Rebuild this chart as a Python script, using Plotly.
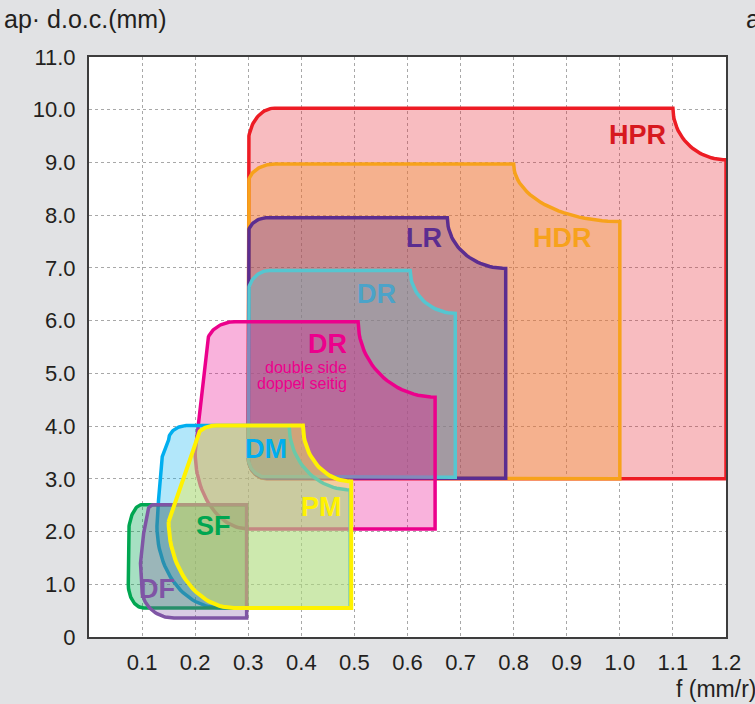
import numpy as np
import plotly.graph_objects as go

# ---- axis ticks -------------------------------------------------------
F_TICKS = [0.1, 0.2, 0.3, 0.4, 0.5, 0.6, 0.7, 0.8, 0.9, 1.0, 1.1, 1.2]
F_TICK_TEXT = ["0.1", "0.2", "0.3", "0.4", "0.5", "0.6", "0.7", "0.8",
               "0.9", "1.0", "1.1", "1.2"]
AP_TICKS = [0, 1, 2, 3, 4, 5, 6, 7, 8, 9, 10, 11]
AP_TICK_TEXT = ["0", "1.0", "2.0", "3.0", "4.0", "5.0", "6.0", "7.0",
                "8.0", "9.0", "10.0", "11.0"]

# ---- chipbreaker application windows ----------------------------------
# Outline vertices in feed f (mm/r) and depth of cut ap (mm), walked
# clockwise.  Edge kinds: L = straight, V = quarter arc leaving the start
# vertex vertically, H = quarter arc leaving it horizontally.
HPR_F = [0.300, 0.300, 0.350, 1.100, 1.200, 1.200, 0.335]
HPR_AP = [3.40, 9.35, 10.03, 10.03, 9.05, 3.00, 3.00]
HPR_SEG = "LVLVLLH"

HDR_F = [0.300, 0.300, 0.350, 0.800, 1.000, 1.000, 0.335]
HDR_AP = [3.40, 8.60, 8.97, 8.97, 7.88, 3.00, 3.00]
HDR_SEG = "LVLVLLH"

LR_F = [0.300, 0.300, 0.335, 0.675, 0.785, 0.785, 0.335]
LR_AP = [3.40, 7.65, 7.95, 7.95, 6.99, 3.01, 3.01]
LR_SEG = "LVLVLLH"

DRC_F = [0.300, 0.300, 0.340, 0.605, 0.690, 0.690, 0.335]
DRC_AP = [3.40, 6.52, 6.95, 6.95, 6.14, 3.03, 3.03]
DRC_SEG = "LVLVLLH"

DRP_F = [0.200, 0.222, 0.275, 0.507, 0.652, 0.652, 0.300]
DRP_AP = [3.50, 5.55, 5.98, 5.98, 4.55, 2.05, 2.05]
DRP_SEG = "LVLVLLH"

DM_F = [0.131, 0.138, 0.150, 0.185, 0.377, 0.492, 0.492, 0.245, 0.128]
DM_AP = [2.60, 3.42, 3.74, 4.01, 4.01, 2.79, 0.555, 0.555, 2.10]
DM_SEG = "LLVLVLLHL"

SF_F = [0.074, 0.074, 0.100, 0.297, 0.297, 0.103]
SF_AP = [1.00, 1.90, 2.51, 2.51, 0.55, 0.55]
SF_SEG = "LVLLLH"

DF_F = [0.100, 0.097, 0.103, 0.109, 0.122, 0.297, 0.297, 0.160]
DF_AP = [0.90, 1.40, 1.97, 2.33, 2.51, 2.51, 0.36, 0.36]
DF_SEG = "LLLVLLLH"

PM_F = [0.150, 0.204, 0.240, 0.403, 0.494, 0.494, 0.273]
PM_AP = [2.19, 3.80, 4.01, 4.01, 2.95, 0.55, 0.55]
PM_SEG = "LVLVLLH"

# ---- label names and their anchor positions (f, ap) ------------------
LABEL_TEXT = ["HPR", "HDR", "LR", "DR", "DR", "DM", "PM", "SF", "DF"]
LABEL_F = [1.033, 0.892, 0.631, 0.541, 0.449, 0.333, 0.4375, 0.2345, 0.129]
LABEL_AP = [9.53, 7.56, 7.56, 6.51, 5.55, 3.57, 2.46, 2.11, 0.915]
LABEL_COLOR = ["#d7191f", "#f7a21b", "#5b2d90", "#4ba3c9", "#ec008c",
               "#00aeef", "#fff200", "#00a651", "#7f55a5"]


def outline(f, ap, seg, n=28):
    """Closed outline through the vertices, with quarter-ellipse arcs."""
    xs, ys = [], []
    m = len(f)
    for i in range(m):
        x0, y0 = f[i], ap[i]
        x1, y1 = f[(i + 1) % m], ap[(i + 1) % m]
        kind = seg[i]
        if kind == "L":
            xs.append(x0)
            ys.append(y0)
        else:
            cx, cy = (x1, y0) if kind == "V" else (x0, y1)
            t = np.linspace(0, np.pi / 2, n, endpoint=False)
            xs += list(cx + (x0 - cx) * np.cos(t) + (x1 - cx) * np.sin(t))
            ys += list(cy + (y0 - cy) * np.cos(t) + (y1 - cy) * np.sin(t))
    xs.append(xs[0])
    ys.append(ys[0])
    return xs, ys


# drawing order: big roughing windows first, finishing windows on top
regions = [
    ("HPR", HPR_F, HPR_AP, HPR_SEG, "#ed1c24", "rgba(232,32,45,0.30)", 3.5),
    ("HDR", HDR_F, HDR_AP, HDR_SEG, "#f7a21b", "rgba(242,159,49,0.35)", 3.5),
    ("LR", LR_F, LR_AP, LR_SEG, "#5b2d90", "rgba(91,45,142,0.30)", 3.5),
    ("DR", DRC_F, DRC_AP, DRC_SEG, "#55c6d0", "rgba(82,196,208,0.30)", 3.5),
    ("DR double side", DRP_F, DRP_AP, DRP_SEG, "#ec008c", "rgba(236,0,140,0.30)", 3.5),
    ("DM", DM_F, DM_AP, DM_SEG, "#00aeef", "rgba(0,174,239,0.30)", 3.5),
    ("SF", SF_F, SF_AP, SF_SEG, "#00a651", "rgba(0,166,81,0.35)", 3.5),
    ("DF", DF_F, DF_AP, DF_SEG, "#7f55a5", "rgba(128,86,166,0.30)", 3.5),
    ("PM", PM_F, PM_AP, PM_SEG, "#fff200", "rgba(237,234,83,0.45)", 4.0),
]

fig = go.Figure()
for name, f, ap, seg, lc, fc, lw in regions:
    xs, ys = outline(f, ap, seg)
    fig.add_trace(go.Scatter(
        x=xs, y=ys, name=name, mode="lines", fill="toself",
        fillcolor=fc, line=dict(color=lc, width=lw),
        hoverinfo="name", showlegend=False,
    ))

FONT = "Liberation Sans, Arial, sans-serif"
annotations = []
for txt, fx, ay, col in zip(LABEL_TEXT, LABEL_F, LABEL_AP, LABEL_COLOR):
    annotations.append(dict(
        x=fx, y=ay, xref="x", yref="y", text="<b>%s</b>" % txt,
        showarrow=False, xanchor="center", yanchor="middle",
        font=dict(family=FONT, size=27, color=col),
    ))
# sub-caption of the double-sided DR window
for line, ay in (("double side", 5.11), ("doppel seitig", 4.81)):
    annotations.append(dict(
        x=0.489, y=ay, xref="x", yref="y", text=line, showarrow=False,
        xanchor="right", yanchor="middle",
        font=dict(family=FONT, size=16, color="#ec008c"),
    ))
# axis captions
annotations.append(dict(
    x=-0.136, y=1.066, xref="paper", yref="paper", text="ap· d.o.c.(mm)",
    showarrow=False, xanchor="left", yanchor="middle",
    font=dict(family=FONT, size=25, color="#231f20"),
))
annotations.append(dict(
    x=1.029, y=1.066, xref="paper", yref="paper", text="ap· d.o.c.(mm)",
    showarrow=False, xanchor="left", yanchor="middle",
    font=dict(family=FONT, size=25, color="#231f20"),
))
annotations.append(dict(
    x=1.05, y=-0.089, xref="paper", yref="paper", text="f (mm/r)",
    showarrow=False, xanchor="right", yanchor="middle",
    font=dict(family=FONT, size=23, color="#231f20"),
))

axis_common = dict(
    showline=True, linecolor="#3d3d3d", linewidth=2, mirror=True,
    showgrid=True, gridcolor="#a8a8a8", gridwidth=1, griddash="dot",
    zeroline=False, ticks="", fixedrange=True,
    tickfont=dict(family=FONT, size=22, color="#231f20"),
)

fig.update_layout(
    width=755, height=704,
    margin=dict(l=89, r=29, t=57, b=67),
    paper_bgcolor="#e1e2e4", plot_bgcolor="#ffffff",
    xaxis=dict(range=[0, 1.2], tickvals=F_TICKS, ticktext=F_TICK_TEXT,
               ticklabelstandoff=5, **axis_common),
    yaxis=dict(range=[0, 11], tickvals=AP_TICKS, ticktext=AP_TICK_TEXT,
               ticklabelstandoff=7, **axis_common),
    annotations=annotations,
    showlegend=False,
)

fig.write_html("out.html")
